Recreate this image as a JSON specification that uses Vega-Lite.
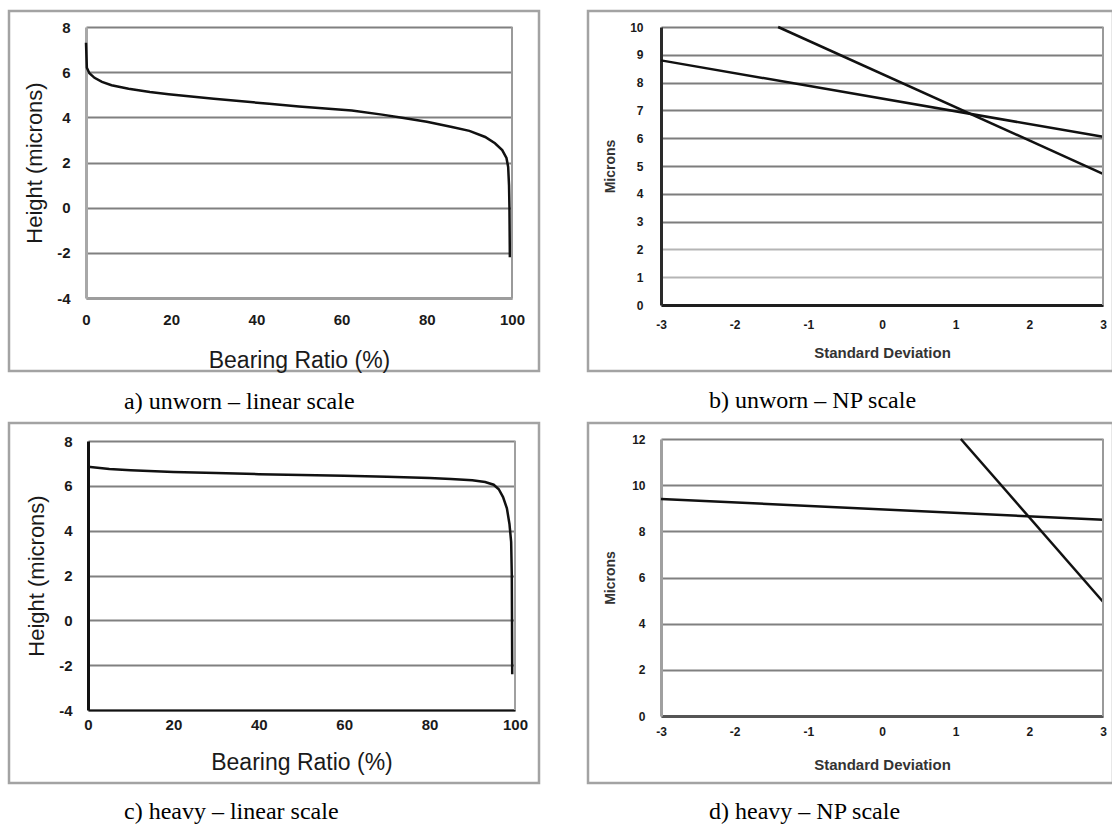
{
  "$schema": "https://vega.github.io/schema/vega-lite/v6.json",
  "padding": {"left": 7, "top": 9, "right": 0, "bottom": 0},
  "background": "white",
  "bounds": "flush",
  "columns": 2,
  "spacing": {"row": 52, "column": 49},
  "datasets": {
    "a": [
      {"ratio": 0, "height": 7.3}, {"ratio": 0.2, "height": 6.2}, {"ratio": 0.8, "height": 5.95},
      {"ratio": 2, "height": 5.75}, {"ratio": 3.75, "height": 5.57}, {"ratio": 6, "height": 5.42},
      {"ratio": 10, "height": 5.27}, {"ratio": 15, "height": 5.12}, {"ratio": 19.4, "height": 5.02},
      {"ratio": 30, "height": 4.82}, {"ratio": 43, "height": 4.6}, {"ratio": 50, "height": 4.48},
      {"ratio": 62.4, "height": 4.3}, {"ratio": 69.5, "height": 4.12}, {"ratio": 74.2, "height": 3.98},
      {"ratio": 80, "height": 3.8}, {"ratio": 85.9, "height": 3.57}, {"ratio": 90, "height": 3.4},
      {"ratio": 93.7, "height": 3.13}, {"ratio": 96, "height": 2.85}, {"ratio": 97.7, "height": 2.55},
      {"ratio": 98.7, "height": 2.2}, {"ratio": 99.1, "height": 1.8}, {"ratio": 99.3, "height": 1.0},
      {"ratio": 99.4, "height": 0}, {"ratio": 99.5, "height": -2.2}
    ],
    "b": [
      {"series": "s1", "sd": -3, "microns": 8.8}, {"series": "s1", "sd": 3, "microns": 6.05},
      {"series": "s2", "sd": -1.41, "microns": 10}, {"series": "s2", "sd": 3, "microns": 4.72}
    ],
    "c": [
      {"ratio": 0, "height": 6.85}, {"ratio": 5, "height": 6.75}, {"ratio": 10, "height": 6.7},
      {"ratio": 20, "height": 6.62}, {"ratio": 30, "height": 6.57}, {"ratio": 40, "height": 6.52},
      {"ratio": 50, "height": 6.48}, {"ratio": 60, "height": 6.45}, {"ratio": 70, "height": 6.4},
      {"ratio": 80, "height": 6.35}, {"ratio": 85, "height": 6.3}, {"ratio": 90, "height": 6.25},
      {"ratio": 93, "height": 6.17}, {"ratio": 95, "height": 6.05}, {"ratio": 96.2, "height": 5.85},
      {"ratio": 97.2, "height": 5.5}, {"ratio": 98.1, "height": 5.0}, {"ratio": 98.7, "height": 4.3},
      {"ratio": 99.1, "height": 3.5}, {"ratio": 99.25, "height": 2.0}, {"ratio": 99.3, "height": 0},
      {"ratio": 99.35, "height": -2.4}
    ],
    "d": [
      {"series": "s1", "sd": -3, "microns": 9.4}, {"series": "s1", "sd": 3, "microns": 8.5},
      {"series": "s2", "sd": 1.07, "microns": 12}, {"series": "s2", "sd": 3, "microns": 4.95}
    ],
    "one": [{}]
  },
  "config": {
    "view": {"stroke": "#a3a3a3", "strokeWidth": 2.5},
    "axis": {
      "grid": false, "ticks": false, "tickSize": 0, "labelFlush": false, "labelOverlap": false,
      "labelFont": "Liberation Sans", "labelFontWeight": "bold", "labelColor": "#1a1a1a",
      "titleFont": "Liberation Sans", "titleFontWeight": "normal", "titleColor": "#1a1a1a",
      "domainColor": "#8f8f8f", "domainWidth": 3, "gridColor": "#808080", "gridWidth": 2, "gridOpacity": 1,
      "labelExpr": "'' + datum.value"
    },
    "title": {"font": "Liberation Serif", "fontSize": 24, "fontWeight": "normal", "color": "#000", "anchor": "start", "baseline": "top"}
  },
  "concat": [
    {
      "width": 530, "height": 360,
      "title": {"text": "a) unworn – linear scale", "orient": "bottom", "offset": 18, "dx": 115},
      "layer": [
        {
          "data": {"name": "a"},
          "mark": {"type": "line", "color": "#111", "strokeWidth": 2.5},
          "encoding": {
            "x": {"field": "ratio", "type": "quantitative",
              "scale": {"domain": [0, 100], "range": [77, 503], "nice": false, "zero": false},
              "axis": {"values": [0, 20, 40, 60, 80, 100], "offset": -73, "labelPadding": 14, "labelFontSize": 15,
                "title": "Bearing Ratio (%)", "titleFontSize": 23, "titlePadding": 22, "domainColor": "#9d9d9d"}},
            "y": {"field": "height", "type": "quantitative",
              "scale": {"domain": [-4, 8], "range": [287, 16], "nice": false, "zero": false},
              "axis": {"values": [-4, -2, 0, 2, 4, 6, 8], "grid": true, "offset": -77, "labelPadding": 16, "labelFontSize": 15,
                "title": "Height (microns)", "titleFontSize": 22, "titlePadding": 10, "domainColor": "#a8a8a8"}}
          }
        },
        {
          "data": {"name": "one"},
          "mark": {"type": "rule", "color": "#9a9a9a", "strokeWidth": 2},
          "encoding": {
            "x": {"datum": 100, "type": "quantitative",
              "axis": {"values": [0, 20, 40, 60, 80, 100], "offset": -73, "labelPadding": 14, "labelFontSize": 15,
                "title": "Bearing Ratio (%)", "titleFontSize": 23, "titlePadding": 22, "domainColor": "#9d9d9d"}},
            "y": {"datum": -4, "type": "quantitative",
              "axis": {"values": [-4, -2, 0, 2, 4, 6, 8], "grid": true, "offset": -77, "labelPadding": 16, "labelFontSize": 15,
                "title": "Height (microns)", "titleFontSize": 22, "titlePadding": 10, "domainColor": "#a8a8a8"}},
            "y2": {"datum": 8}
          }
        }
      ]
    },
    {
      "width": 525, "height": 360,
      "title": {"text": "b) unworn – NP scale", "orient": "bottom", "offset": 18, "dx": 121},
      "layer": [
        {
          "data": {"name": "b"},
          "mark": {"type": "line", "color": "#111", "strokeWidth": 2.5},
          "encoding": {
            "detail": {"field": "series"},
            "x": {"field": "sd", "type": "quantitative",
              "scale": {"domain": [-3, 3], "range": [73, 515], "nice": false, "zero": false},
              "axis": {"values": [-3, -2, -1, 0, 1, 2, 3], "offset": -66, "labelPadding": 14, "labelFontSize": 12,
                "title": "Standard Deviation", "titleFontSize": 15, "titleFontWeight": "bold", "titleColor": "#333", "titlePadding": 15, "domainColor": "#1e1e1e"}},
            "y": {"field": "microns", "type": "quantitative",
              "scale": {"domain": [0, 10], "range": [294, 16], "nice": false, "zero": false},
              "axis": {"values": [0, 1, 2, 3, 4, 5, 6, 7, 8, 9, 10], "grid": true, "offset": -73, "labelPadding": 18, "labelFontSize": 12,
                "title": "Microns", "titleFontSize": 14, "titleFontWeight": "bold", "titleColor": "#333", "titlePadding": 12, "domainColor": "#2a2a2a",
                "gridColor": {"condition": {"test": "datum.value == 1 || datum.value == 2", "value": "#b5b5b5"}, "value": "#7d7d7d"}}}
          }
        },
        {
          "data": {"name": "one"},
          "mark": {"type": "rule", "color": "#9a9a9a", "strokeWidth": 2},
          "encoding": {
            "x": {"datum": 3, "type": "quantitative",
              "axis": {"values": [-3, -2, -1, 0, 1, 2, 3], "offset": -66, "labelPadding": 14, "labelFontSize": 12,
                "title": "Standard Deviation", "titleFontSize": 15, "titleFontWeight": "bold", "titleColor": "#333", "titlePadding": 15, "domainColor": "#1e1e1e"}},
            "y": {"datum": 0, "type": "quantitative",
              "axis": {"values": [0, 1, 2, 3, 4, 5, 6, 7, 8, 9, 10], "grid": true, "offset": -73, "labelPadding": 18, "labelFontSize": 12,
                "title": "Microns", "titleFontSize": 14, "titleFontWeight": "bold", "titleColor": "#333", "titlePadding": 12, "domainColor": "#2a2a2a",
                "gridColor": {"condition": {"test": "datum.value == 1 || datum.value == 2", "value": "#b5b5b5"}, "value": "#7d7d7d"}}},
            "y2": {"datum": 10}
          }
        }
      ]
    },
    {
      "width": 530, "height": 360,
      "title": {"text": "c) heavy – linear scale", "orient": "bottom", "offset": 17, "dx": 115},
      "layer": [
        {
          "data": {"name": "c"},
          "mark": {"type": "line", "color": "#111", "strokeWidth": 2.5},
          "encoding": {
            "x": {"field": "ratio", "type": "quantitative",
              "scale": {"domain": [0, 100], "range": [79, 506], "nice": false, "zero": false},
              "axis": {"values": [0, 20, 40, 60, 80, 100], "offset": -73, "labelPadding": 7, "labelFontSize": 15,
                "title": "Bearing Ratio (%)", "titleFontSize": 23, "titlePadding": 19, "domainColor": "#111", "domainWidth": 2}},
            "y": {"field": "height", "type": "quantitative",
              "scale": {"domain": [-4, 8], "range": [287, 18], "nice": false, "zero": false},
              "axis": {"values": [-4, -2, 0, 2, 4, 6, 8], "grid": true, "offset": -79, "labelPadding": 16, "labelFontSize": 15,
                "title": "Height (microns)", "titleFontSize": 22, "titlePadding": 10, "domainColor": "#111"}}
          }
        },
        {
          "data": {"name": "one"},
          "mark": {"type": "rule", "color": "#a0a0a0", "strokeWidth": 2},
          "encoding": {
            "x": {"datum": 100, "type": "quantitative",
              "axis": {"values": [0, 20, 40, 60, 80, 100], "offset": -73, "labelPadding": 7, "labelFontSize": 15,
                "title": "Bearing Ratio (%)", "titleFontSize": 23, "titlePadding": 19, "domainColor": "#111", "domainWidth": 2}},
            "y": {"datum": -4, "type": "quantitative",
              "axis": {"values": [-4, -2, 0, 2, 4, 6, 8], "grid": true, "offset": -79, "labelPadding": 16, "labelFontSize": 15,
                "title": "Height (microns)", "titleFontSize": 22, "titlePadding": 10, "domainColor": "#111"}},
            "y2": {"datum": 8}
          }
        }
      ]
    },
    {
      "width": 525, "height": 360,
      "title": {"text": "d) heavy – NP scale", "orient": "bottom", "offset": 17, "dx": 121},
      "layer": [
        {
          "data": {"name": "d"},
          "mark": {"type": "line", "color": "#111", "strokeWidth": 2.5},
          "encoding": {
            "detail": {"field": "series"},
            "x": {"field": "sd", "type": "quantitative",
              "scale": {"domain": [-3, 3], "range": [73, 515], "nice": false, "zero": false},
              "axis": {"values": [-3, -2, -1, 0, 1, 2, 3], "offset": -67, "labelPadding": 10, "labelFontSize": 12,
                "title": "Standard Deviation", "titleFontSize": 15, "titleFontWeight": "bold", "titleColor": "#333", "titlePadding": 20, "domainColor": "#555"}},
            "y": {"field": "microns", "type": "quantitative",
              "scale": {"domain": [0, 12], "range": [293, 16], "nice": false, "zero": false},
              "axis": {"values": [0, 2, 4, 6, 8, 10, 12], "grid": true, "offset": -73, "labelPadding": 16, "labelFontSize": 12,
                "title": "Microns", "titleFontSize": 14, "titleFontWeight": "bold", "titleColor": "#333", "titlePadding": 14, "domainColor": "#a0a0a0"}}
          }
        },
        {
          "data": {"name": "one"},
          "mark": {"type": "rule", "color": "#9a9a9a", "strokeWidth": 2},
          "encoding": {
            "x": {"datum": 3, "type": "quantitative",
              "axis": {"values": [-3, -2, -1, 0, 1, 2, 3], "offset": -67, "labelPadding": 10, "labelFontSize": 12,
                "title": "Standard Deviation", "titleFontSize": 15, "titleFontWeight": "bold", "titleColor": "#333", "titlePadding": 20, "domainColor": "#555"}},
            "y": {"datum": 0, "type": "quantitative",
              "axis": {"values": [0, 2, 4, 6, 8, 10, 12], "grid": true, "offset": -73, "labelPadding": 16, "labelFontSize": 12,
                "title": "Microns", "titleFontSize": 14, "titleFontWeight": "bold", "titleColor": "#333", "titlePadding": 14, "domainColor": "#a0a0a0"}},
            "y2": {"datum": 12}
          }
        }
      ]
    }
  ]
}
